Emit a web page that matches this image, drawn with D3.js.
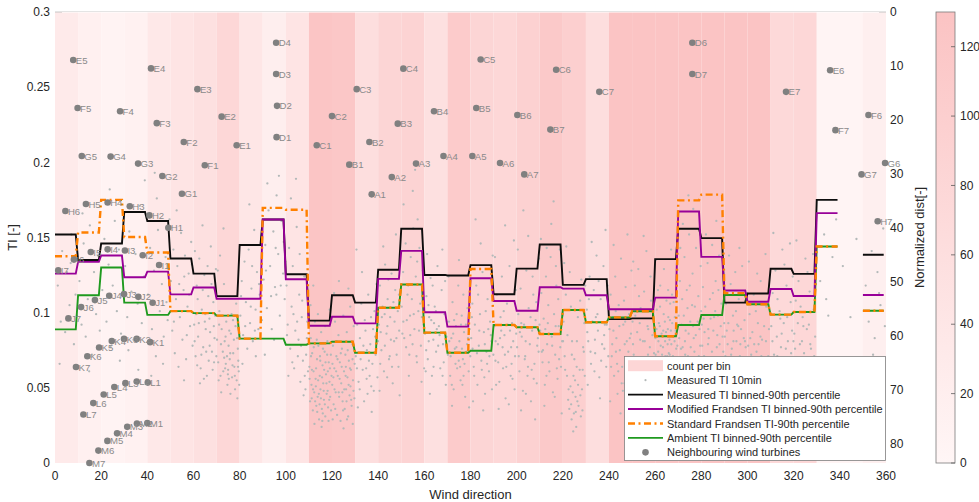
<!DOCTYPE html>
<html>
<head>
<meta charset="utf-8">
<script src="https://cdn.jsdelivr.net/npm/d3@7/dist/d3.min.js"></script>
<style>
  html, body { margin: 0; padding: 0; background: #fff; }
  svg { display: block; font-family: "Liberation Sans", Arial, Helvetica, sans-serif; }
</style>
</head>
<body>
<svg id="chart" width="979" height="502"></svg>
<script>
// ---- data -------------------------------------------------------------
// 10-degree direction bins (bin start angles)
const binStarts = d3.range(0, 360, 10);

// number of 10-min records per bin (background shading)
const countPerBin = [30, 15, 8, 12, 35, 45, 55, 80, 40, 20, 45, 125, 120, 60, 85, 90, 55, 110,
                     85, 80, 95, 115, 100, 60, 128, 128, 128, 128, 128, 128, 128, 75, 80, 5, 5, 18];

// binned 90th-percentile TI per bin (null = no data)
const measuredTI = [0.152, 0.135, 0.146, 0.167, 0.161, 0.136, 0.126, 0.111, 0.145, 0.162, 0.1256, 0.0947,
                    0.1116, 0.1067, 0.1285, 0.1558, 0.1251, 0.1247, 0.1316, 0.1123, 0.1293, 0.1453, 0.1185, 0.1223,
                    0.0957, 0.0962, 0.1356, 0.1558, 0.1496, 0.1067, 0.1127, 0.1292, 0.1258, 0.175, null, 0.1385];
const modifiedFrandsenTI = [0.126, 0.1338, 0.138, 0.1236, 0.1273, 0.1122, 0.1167, 0.1093, 0.1093, 0.162, 0.1222, 0.0913,
                    0.0973, 0.0929, 0.1225, 0.1411, 0.1003, 0.0907, 0.1229, 0.1078, 0.1013, 0.1169, 0.116, 0.1116,
                    0.1023, 0.1023, 0.110, 0.1673, 0.1371, 0.1147, 0.1073, 0.1157, 0.1111, 0.1662, null, 0.1118];
const standardFrandsenTI = [0.1375, 0.1533, 0.175, 0.1503, 0.140, 0.101, 0.0997, 0.098, 0.0827, 0.1697, 0.1685, 0.0796,
                    0.0807, 0.0733, 0.1033, 0.1187, 0.0867, 0.0733, 0.129, 0.0918, 0.0903, 0.0858, 0.1018, 0.0936,
                    0.0969, 0.1009, 0.0843, 0.1747, 0.1785, 0.113, 0.1056, 0.0987, 0.1004, 0.144, null, 0.1013];
const ambientTI = [0.0889, 0.1116, 0.130, 0.1067, 0.0985, 0.101, 0.0997, 0.098, 0.0827, 0.0827, 0.0787, 0.0796,
                    0.0807, 0.0733, 0.1033, 0.1187, 0.0867, 0.0733, 0.0747, 0.0918, 0.0903, 0.0858, 0.1018, 0.0936,
                    0.0969, 0.1009, 0.0843, 0.0918, 0.0984, 0.1118, 0.1056, 0.0987, 0.1004, 0.144, null, 0.1013];

// neighbouring turbines: [name, direction (deg), normalized distance]
const turbines = [
  ["E5",7.9,8.9],["E4",41.6,10.45],["E3",61.7,14.3],["E2",72.2,19.4],["E1",78.7,24.7],
  ["D4",95.8,5.7],["D3",95.8,11.5],["D2",96.2,17.4],["D1",96.0,23.2],
  ["F5",9.8,17.8],["F4",28.2,18.4],["F3",44.1,20.6],["F2",55.8,24.1],["F1",64.9,28.4],
  ["G5",11.6,26.7],["G4",24.1,26.8],["G3",36.0,28.1],["G2",46.5,30.4],["G1",55.0,33.7],
  ["H6",4.5,36.9],["H5",13.4,35.6],["H4",22.8,35.3],["H3",32.4,36.0],["H2",40.9,37.7],["H1",49.1,40.0],
  ["I7",1.4,47.9],["I6",8.2,45.9],["I5",15.5,44.5],["I4",22.8,44.0],["I3",30.3,44.2],["I2",38.0,45.1],["I1",45.1,46.9],
  ["J7",5.8,56.8],["J6",11.3,54.7],["J5",17.3,53.4],["J4",23.5,52.6],["J3",29.9,52.3],["J2",36.1,52.8],["J1",42.3,53.9],
  ["K7",9.1,65.8],["K6",14.0,63.8],["K5",19.1,62.2],["K4",24.6,61.0],["K3",29.9,60.6],["K2",35.4,60.6],["K1",41.2,61.2],
  ["L7",12.3,74.6],["L6",16.6,72.5],["L5",21.1,70.9],["L4",25.7,69.5],["L3",30.5,68.8],["L2",35.4,68.5],["L1",40.2,68.7],
  ["M7",14.9,83.6],["M6",18.8,81.3],["M5",22.7,79.5],["M4",26.9,78.1],["M3",31.3,76.9],["M2",35.5,76.3],["M1",40.0,76.2],
  ["C1",113.4,24.7],["C2",120.0,19.3],["C3",130.7,14.3],["C4",150.9,10.5],["C5",184.4,8.8],["C6",217.1,10.7],["C7",235.8,14.8],
  ["B1",127.5,28.3],["B2",136.2,24.1],["B3",148.5,20.7],["B4",164.2,18.4],["B5",182.5,17.8],["B6",200.3,19.1],["B7",214.6,21.8],
  ["A1",137.2,33.8],["A2",145.9,30.6],["A3",156.4,28.1],["A4",168.3,26.7],["A5",180.8,26.7],["A6",192.8,28.0],["A7",203.3,30.1],
  ["D6",276.1,5.7],["D7",276.1,11.5],["E7",316.7,14.8],["E6",335.8,10.8],["F6",352.4,19.1],["F7",338.1,21.9],
  ["G6",359.6,28.0],["G7",349.4,30.1],["H7",356.4,38.8]
];

// measured 10-min TI records: [direction (deg), TI]
const measured10min = [
[1.2,.118],[2.5,.094],[3.1,.141],[4.4,.087],[5.2,.127],[6.3,.105],[7.1,.152],[8.2,.079],[8.9,.112],[2.0,.066],[6.8,.133],[9.5,.098],[4.0,.168],
[10.6,.121],[11.5,.092],[12.4,.146],[13.3,.084],[14.2,.109],[15.1,.158],[16.0,.072],[16.9,.127],[17.8,.099],[18.6,.138],[19.4,.088],[14.8,.061],[11.9,.166],
[20.5,.115],[21.4,.149],[22.3,.094],[23.2,.132],[24.1,.077],[25.0,.118],[25.9,.161],[26.8,.101],[27.7,.142],[28.6,.086],[29.4,.125],[23.7,.182],[28.1,.068],
[30.4,.131],[31.3,.097],[32.2,.154],[33.1,.114],[34.0,.082],[34.9,.139],[35.8,.106],[36.7,.171],[37.6,.093],[38.5,.124],[39.3,.148],[31.8,.075],[36.1,.062],[38.9,.188],
[40.3,.112],[41.2,.143],[42.0,.089],[42.9,.128],[43.7,.071],[44.6,.155],[45.4,.101],[46.3,.119],[47.1,.084],[47.9,.137],[48.8,.095],[49.6,.162],[41.7,.058],[44.1,.176],[45.9,.132],[48.3,.107],[43.2,.193],[46.8,.066],
[50.2,.121],[50.8,.088],[51.3,.142],[51.9,.073],[52.4,.109],[53.0,.131],[53.5,.064],[54.1,.097],[54.6,.153],[55.2,.082],[55.7,.115],[56.3,.138],[56.8,.069],[57.4,.104],[57.9,.126],[58.5,.091],[59.0,.147],[59.6,.078],[52.7,.168],[55.9,.055],[58.1,.112],[50.6,.101],[53.8,.119],[57.1,.085],[59.3,.132],[54.4,.178],[51.5,.094],[56.0,.124],
[60.3,.092],[60.9,.071],[61.4,.118],[62.0,.084],[62.5,.136],[63.1,.063],[63.6,.102],[64.2,.077],[64.7,.125],[65.3,.089],[65.8,.058],[66.4,.111],[66.9,.096],[67.5,.144],[68.0,.074],[68.6,.107],[69.1,.083],[69.7,.129],[61.1,.099],[62.8,.053],[64.0,.115],[65.5,.074],[67.2,.087],[68.3,.062],[69.4,.098],[63.9,.158],[66.1,.131],[61.8,.109],[67.8,.119],[60.6,.141],[64.9,.094],[68.9,.067],
[70.2,.082],[70.7,.067],[71.2,.101],[71.7,.058],[72.2,.089],[72.7,.074],[73.2,.119],[73.7,.063],[74.2,.094],[74.7,.052],[75.2,.078],[75.7,.069],[76.2,.086],[76.7,.057],[77.2,.073],[77.7,.064],[78.2,.091],[78.7,.055],[79.2,.076],[79.6,.061],[70.5,.128],[72.0,.047],[73.5,.081],[75.0,.062],[76.5,.099],[78.0,.049],[79.4,.068],[71.5,.138],[74.5,.071],[77.5,.082],[76.0,.046],[73.0,.156],[78.5,.106],[75.5,.088],[79.0,.043],[74.0,.066],
[80.3,.098],[80.9,.121],[81.5,.085],[82.1,.134],[82.7,.107],[83.3,.076],[83.9,.142],[84.5,.093],[85.1,.116],[85.7,.081],[86.3,.155],[86.9,.102],[87.5,.127],[88.1,.089],[88.7,.112],[89.3,.149],[81.2,.066],[84.2,.172],[87.0,.071],[85.4,.131],[89.6,.095],
[90.4,.122],[91.1,.145],[91.8,.103],[92.5,.168],[93.2,.131],[93.9,.089],[94.6,.154],[95.3,.117],[96.0,.178],[96.7,.139],[97.4,.098],[98.1,.161],[98.8,.126],[99.5,.109],[92.0,.186],[94.9,.082],[97.0,.191],[99.1,.147],[90.9,.072],[95.9,.112],
[100.3,.118],[100.8,.092],[101.4,.143],[101.9,.076],[102.5,.104],[103.0,.131],[103.6,.063],[104.1,.088],[104.7,.157],[105.2,.071],[105.8,.112],[106.3,.054],[106.9,.097],[107.4,.068],[108.0,.124],[108.5,.049],[109.1,.083],[109.6,.061],[102.2,.176],[104.4,.189],[106.0,.139],[107.7,.045],[108.8,.072],[101.1,.058],[103.3,.099],[105.5,.082],[107.1,.108],[109.3,.094],
[110.2,.064],[110.5,.041],[110.8,.083],[111.1,.052],[111.4,.073],[111.7,.035],[112.0,.061],[112.3,.047],[112.6,.094],[112.9,.056],[113.2,.038],[113.5,.069],[113.8,.044],[114.1,.078],[114.4,.029],[114.7,.058],[115.0,.049],[115.3,.087],[115.6,.036],[115.9,.065],[116.2,.053],[116.5,.042],[116.8,.074],[117.1,.031],[117.4,.059],[117.7,.046],[118.0,.081],[118.3,.037],[118.6,.067],[118.9,.054],[119.2,.044],[119.5,.072],[119.8,.058],[110.7,.105],[112.4,.026],[113.9,.099],[115.5,.024],[117.0,.091],[118.5,.028],[111.9,.118],[114.9,.068],[116.0,.033],[119.0,.102],[113.0,.051],[116.6,.062],[111.2,.043],[118.1,.048],[114.6,.039],
[120.1,.052],[120.4,.078],[120.7,.039],[121.0,.063],[121.3,.094],[121.6,.047],[121.9,.071],[122.2,.032],[122.5,.058],[122.8,.085],[123.1,.044],[123.4,.067],[123.7,.028],[124.0,.053],[124.3,.076],[124.6,.041],[124.9,.098],[125.2,.061],[125.5,.036],[125.8,.072],[126.1,.049],[126.4,.087],[126.7,.057],[127.0,.031],[127.3,.068],[127.6,.045],[127.9,.104],[128.2,.062],[128.5,.038],[128.8,.079],[129.1,.055],[129.4,.091],[129.7,.043],[120.9,.113],[123.0,.121],[125.0,.023],[127.1,.116],[129.0,.026],[122.0,.081],[126.0,.064],[128.0,.051],[124.5,.047],
[130.3,.071],[130.9,.092],[131.5,.054],[132.1,.083],[132.7,.106],[133.3,.062],[133.9,.041],[134.5,.088],[135.1,.075],[135.7,.112],[136.3,.058],[136.9,.097],[137.5,.066],[138.1,.048],[138.7,.084],[139.3,.119],[131.2,.037],[133.0,.127],[134.8,.063],[136.6,.079],[138.4,.101],[139.7,.057],[132.4,.069],[135.4,.046],[137.8,.089],[130.6,.142],[134.2,.095],[137.2,.034],
[140.3,.092],[140.8,.118],[141.4,.075],[141.9,.104],[142.5,.061],[143.0,.132],[143.6,.086],[144.1,.109],[144.7,.069],[145.2,.097],[145.8,.126],[146.3,.053],[146.9,.081],[147.4,.115],[148.0,.072],[148.5,.101],[149.1,.088],[149.6,.139],[140.6,.048],[142.2,.144],[143.9,.057],[145.5,.082],[147.1,.094],[148.8,.064],[141.1,.087],[144.4,.122],[146.6,.107],[149.3,.045],[142.8,.099],[147.7,.152],
[150.2,.104],[150.8,.127],[151.3,.083],[151.9,.146],[152.4,.095],[153.0,.118],[153.5,.072],[154.1,.137],[154.6,.109],[155.2,.156],[155.7,.089],[156.3,.124],[156.8,.067],[157.4,.101],[157.9,.143],[158.5,.078],[159.0,.115],[159.6,.092],[151.0,.172],[153.3,.058],[155.0,.181],[156.9,.134],[158.8,.054],[152.7,.112],[154.9,.079],[157.1,.162],[159.3,.128],[150.5,.086],[153.8,.098],[158.2,.106],[156.0,.195],
[160.3,.086],[160.9,.111],[161.5,.069],[162.1,.097],[162.7,.123],[163.3,.058],[163.9,.082],[164.5,.104],[165.1,.074],[165.7,.131],[166.3,.091],[166.9,.063],[167.5,.115],[168.1,.079],[168.7,.099],[169.3,.052],[161.2,.139],[162.4,.046],[164.2,.093],[166.0,.078],[167.8,.142],[169.6,.084],[160.6,.061],[163.6,.118],[165.4,.089],[168.4,.067],[161.8,.105],[169.0,.121],
[170.2,.072],[170.7,.094],[171.2,.058],[171.7,.083],[172.2,.107],[172.7,.049],[173.2,.076],[173.7,.091],[174.2,.063],[174.7,.118],[175.2,.081],[175.7,.055],[176.2,.098],[176.7,.069],[177.2,.087],[177.7,.044],[178.2,.074],[178.7,.103],[179.2,.061],[179.6,.089],[170.5,.124],[172.0,.038],[173.5,.066],[175.0,.135],[176.5,.052],[178.0,.092],[179.4,.037],[171.4,.071],[174.0,.099],[177.0,.058],[178.5,.079],[172.5,.086],[175.5,.064],[176.9,.112],
[180.3,.083],[180.8,.106],[181.4,.064],[181.9,.092],[182.5,.118],[183.0,.052],[183.6,.078],[184.1,.099],[184.7,.068],[185.2,.127],[185.8,.087],[186.3,.046],[186.9,.074],[187.4,.109],[188.0,.061],[188.5,.094],[189.1,.081],[189.6,.138],[181.1,.041],[182.8,.073],[184.4,.146],[186.0,.057],[187.7,.089],[189.3,.049],[180.6,.097],[183.3,.112],[185.5,.035],[188.2,.071],[182.2,.162],[186.6,.101],
[190.3,.091],[190.8,.068],[191.4,.112],[191.9,.079],[192.5,.054],[193.0,.097],[193.6,.124],[194.1,.063],[194.7,.085],[195.2,.043],[195.8,.106],[196.3,.074],[196.9,.131],[197.4,.058],[198.0,.093],[198.5,.081],[199.1,.049],[199.6,.115],[190.6,.137],[192.2,.036],[193.9,.077],[195.5,.064],[197.1,.088],[198.8,.148],[191.1,.052],[194.4,.101],[196.6,.039],[199.3,.071],[192.8,.083],[197.8,.066],[195.0,.158],
[200.2,.077],[200.7,.099],[201.2,.061],[201.7,.116],[202.2,.084],[202.7,.048],[203.2,.092],[203.7,.071],[204.2,.128],[204.7,.058],[205.2,.103],[205.7,.079],[206.2,.041],[206.7,.088],[207.2,.112],[207.7,.066],[208.2,.095],[208.7,.053],[209.2,.083],[209.7,.136],[200.5,.142],[201.9,.035],[203.5,.069],[205.0,.151],[206.5,.062],[208.0,.029],[209.5,.074],[201.4,.087],[204.0,.046],[206.9,.124],[208.5,.107],[202.9,.168],
[210.2,.088],[210.7,.113],[211.2,.067],[211.7,.096],[212.2,.052],[212.7,.124],[213.2,.079],[213.7,.105],[214.2,.061],[214.7,.137],[215.2,.084],[215.7,.047],[216.2,.099],[216.7,.072],[217.2,.118],[217.7,.056],[218.2,.091],[218.7,.142],[219.2,.064],[219.7,.081],[210.5,.149],[212.0,.038],[213.5,.093],[215.0,.159],[216.5,.044],[218.0,.109],[219.5,.033],[211.4,.075],[214.0,.086],[217.0,.131],[218.4,.069],[212.9,.058],[216.0,.174],[213.0,.143],
[220.3,.094],[220.8,.071],[221.3,.112],[221.8,.058],[222.3,.042],[222.8,.036],[223.3,.051],[223.8,.029],[224.3,.047],[224.8,.033],[225.3,.055],[225.8,.024],[226.3,.041],[226.8,.038],[227.3,.062],[227.8,.031],[228.3,.049],[228.8,.077],[229.3,.093],[229.7,.118],[220.6,.133],[222.0,.085],[223.5,.104],[225.0,.069],[226.5,.097],[228.0,.122],[229.5,.058],[221.5,.144],[224.0,.081],[226.0,.064],[227.5,.108],[223.0,.127],[225.5,.044],[228.5,.035],[224.5,.021],
[230.4,.102],[231.0,.081],[231.6,.124],[232.2,.066],[232.8,.094],[233.4,.115],[234.0,.073],[234.6,.138],[235.2,.088],[235.8,.057],[236.4,.109],[237.0,.079],[237.6,.131],[238.2,.092],[238.8,.064],[239.4,.118],[230.8,.052],[232.5,.147],[234.3,.097],[236.1,.043],[237.9,.085],[239.7,.071],[231.3,.109],[233.7,.061],[235.5,.121],[238.5,.155],
[240.2,.089],[240.7,.112],[241.2,.071],[241.7,.097],[242.2,.058],[242.7,.124],[243.2,.083],[243.7,.046],[244.2,.105],[244.7,.075],[245.2,.136],[245.7,.064],[246.2,.092],[246.7,.053],[247.2,.117],[247.7,.081],[248.2,.039],[248.7,.099],[249.2,.068],[249.7,.128],[240.5,.041],[242.0,.145],[243.5,.066],[245.0,.033],[246.5,.108],[248.0,.152],[249.5,.086],[241.4,.079],[244.0,.061],[247.0,.094],[248.4,.074],[242.9,.101],[246.0,.048],
[250.2,.094],[250.7,.072],[251.2,.118],[251.7,.056],[252.2,.087],[252.7,.129],[253.2,.064],[253.7,.103],[254.2,.045],[254.7,.081],[255.2,.114],[255.7,.069],[256.2,.141],[256.7,.091],[257.2,.052],[257.7,.077],[258.2,.108],[258.7,.061],[259.2,.096],[259.7,.038],[250.5,.134],[252.0,.041],[253.5,.082],[255.0,.151],[256.5,.063],[258.0,.124],[259.5,.073],[251.4,.098],[254.0,.067],[257.0,.089],[258.4,.047],[253.0,.111],[256.0,.031],[250.9,.058],
[260.1,.083],[260.4,.061],[260.7,.102],[261.0,.048],[261.3,.074],[261.6,.093],[261.9,.057],[262.2,.118],[262.5,.069],[262.8,.086],[263.1,.044],[263.4,.077],[263.7,.099],[264.0,.063],[264.3,.081],[264.6,.052],[264.9,.108],[265.2,.071],[265.5,.089],[265.8,.041],[266.1,.066],[266.4,.095],[266.7,.058],[267.0,.079],[267.3,.112],[267.6,.047],[267.9,.084],[268.2,.068],[268.5,.097],[268.8,.055],[269.1,.076],[269.4,.124],[269.7,.063],[260.3,.135],[261.5,.036],[262.6,.052],[263.8,.129],[264.8,.038],[265.9,.073],[266.9,.142],[267.8,.033],[268.9,.088],[262.0,.091],[263.3,.059],[265.0,.064],[266.2,.082],[267.5,.061],[269.0,.046],[264.2,.094],[268.0,.107],[261.2,.115],[265.6,.115],[269.5,.091],[263.0,.072],[266.6,.049],
[270.2,.098],[270.7,.121],[271.2,.076],[271.7,.109],[272.2,.064],[272.7,.137],[273.2,.088],[273.7,.115],[274.2,.071],[274.7,.152],[275.2,.094],[275.7,.058],[276.2,.126],[276.7,.083],[277.2,.104],[277.7,.143],[278.2,.067],[278.7,.111],[279.2,.089],[279.7,.131],[270.5,.051],[272.0,.159],[273.5,.062],[275.0,.118],[276.5,.169],[278.0,.048],[279.5,.078],[271.4,.092],[274.0,.103],[277.0,.074],[278.4,.094],[272.9,.081],[276.0,.105],[274.4,.178],[277.4,.056],[270.9,.143],
[280.2,.092],[280.7,.117],[281.2,.071],[281.7,.104],[282.2,.059],[282.7,.133],[283.2,.083],[283.7,.109],[284.2,.066],[284.7,.145],[285.2,.088],[285.7,.053],[286.2,.121],[286.7,.077],[287.2,.098],[287.7,.138],[288.2,.062],[288.7,.106],[289.2,.084],[289.7,.124],[280.5,.047],[282.0,.152],[283.5,.063],[285.0,.113],[286.5,.161],[288.0,.044],[289.5,.074],[281.4,.087],[284.0,.096],[287.0,.069],[288.4,.091],[282.9,.079],[286.0,.101],[284.4,.038],[287.4,.115],
[290.2,.084],[290.7,.106],[291.2,.065],[291.7,.093],[292.2,.052],[292.7,.119],[293.2,.076],[293.7,.098],[294.2,.058],[294.7,.127],[295.2,.081],[295.7,.046],[296.2,.109],[296.7,.071],[297.2,.089],[297.7,.131],[298.2,.057],[298.7,.095],[299.2,.077],[299.7,.113],[290.5,.039],[292.0,.138],[293.5,.062],[295.0,.101],[296.5,.143],[298.0,.036],[299.5,.068],[291.4,.079],[294.0,.088],[297.0,.061],[298.4,.083],[292.9,.072],[296.0,.091],
[300.3,.078],[300.9,.099],[301.5,.061],[302.1,.087],[302.7,.112],[303.3,.048],[303.9,.074],[304.5,.093],[305.1,.057],[305.7,.121],[306.3,.082],[306.9,.043],[307.5,.068],[308.1,.104],[308.7,.063],[309.3,.089],[300.6,.134],[302.4,.036],[304.2,.126],[306.0,.071],[307.8,.139],[309.6,.052],[301.2,.083],[303.6,.101],[305.4,.066],[307.2,.091],[308.4,.031],[301.8,.058],[304.8,.079],
[310.3,.091],[310.9,.113],[311.5,.072],[312.1,.128],[312.7,.084],[313.3,.056],[313.9,.101],[314.5,.077],[315.1,.142],[315.7,.093],[316.3,.063],[316.9,.118],[317.5,.081],[318.1,.049],[318.7,.107],[319.3,.088],[311.2,.153],[312.4,.041],[314.2,.096],[316.0,.132],[317.8,.069],[319.6,.124],[313.0,.109],[315.4,.061],[318.4,.146],[310.6,.067],
[320.3,.086],[320.9,.108],[321.5,.067],[322.1,.121],[322.7,.079],[323.3,.052],[323.9,.097],[324.5,.073],[325.1,.136],[325.7,.089],[326.3,.061],[326.9,.114],[327.5,.076],[328.1,.045],[328.7,.102],[329.3,.084],[321.2,.148],[322.4,.038],[324.2,.091],[326.0,.127],[327.8,.065],[329.6,.119],[323.0,.104],[325.4,.057],[328.4,.139],
[331.5,.121],[333.2,.152],[335.0,.098],[336.8,.137],[338.4,.162],[334.1,.109],
[341.3,.131],[344.6,.097],[347.2,.149],
[351.2,.118],[352.5,.094],[353.8,.141],[355.1,.083],[356.3,.127],[357.6,.105],[358.8,.156],[359.5,.091],[354.4,.072],[357.0,.113],
[60.5,.081],[61.6,.065],[62.3,.093],[63.4,.072],[64.5,.056],[65.1,.099],[66.6,.068],[67.0,.078],[68.8,.091],[69.9,.071],[70.9,.055],[71.9,.079],[72.9,.061],[73.9,.084],[74.9,.059],[75.9,.073],[76.9,.065],[77.9,.058],[78.9,.083],[79.8,.052],[71.1,.092],[73.3,.070],[75.3,.056],[77.1,.095],[79.3,.064],
[80.6,.111],[82.4,.091],[84.8,.104],[86.6,.088],[88.4,.119],[91.4,.128],[93.6,.111],[95.6,.143],[97.8,.118],[99.8,.134],[100.5,.085],[102.8,.067],[104.9,.094],[106.6,.078],[108.2,.058],[109.8,.102],
[110.3,.056],[110.9,.071],[111.3,.062],[111.8,.049],[112.1,.077],[112.7,.041],[113.1,.063],[113.6,.034],[114.0,.055],[114.3,.046],[114.8,.071],[115.2,.043],[115.7,.057],[116.1,.076],[116.4,.048],[116.9,.039],[117.2,.067],[117.6,.053],[118.2,.061],[118.8,.042],[119.1,.063],[119.6,.035],[120.2,.066],[120.6,.057],[121.1,.049],[121.4,.036],[121.8,.061],[122.4,.069],[122.9,.047],[123.3,.056],[123.8,.073],[124.2,.064],[124.8,.035],[125.3,.049],[125.9,.058],[126.3,.041],[126.8,.075],[127.2,.052],[127.8,.063],[128.3,.042],[128.9,.069],[129.3,.048],[129.8,.066],[117.9,.072],[113.4,.082],[115.8,.028],[120.3,.029],[126.5,.029],
[130.8,.063],[132.0,.049],[133.6,.078],[135.0,.056],[136.0,.068],[137.0,.051],[138.9,.072],[139.9,.081],
[140.9,.066],[141.6,.097],[142.9,.078],[144.0,.091],[145.0,.071],[146.0,.064],[147.9,.083],[149.0,.112],
[150.9,.094],[152.1,.077],[153.9,.085],[155.4,.099],[156.6,.071],[157.7,.088],[158.9,.097],[159.9,.063],
[160.8,.075],[161.9,.081],[163.0,.095],[164.0,.064],[165.0,.101],[166.6,.085],[167.9,.058],[169.8,.094],
[170.8,.081],[171.9,.052],[172.9,.095],[173.9,.077],[174.9,.068],[175.9,.092],[176.3,.076],[177.4,.066],[178.9,.083],[179.9,.071],
[180.9,.076],[181.6,.058],[183.8,.088],[184.9,.062],[186.2,.079],[187.2,.066],[188.8,.085],[189.9,.072],
[190.9,.081],[192.0,.067],[193.3,.088],[194.9,.072],[196.1,.092],[197.6,.077],[198.2,.056],[199.8,.086],
[200.9,.071],[202.0,.093],[203.9,.081],[204.9,.064],[206.0,.097],[207.4,.056],[208.9,.078],[209.9,.092],
[210.9,.074],[212.4,.089],[213.9,.067],[215.4,.078],[216.9,.091],[217.4,.063],[218.9,.077],[219.9,.098],
[220.1,.081],[221.0,.062],[222.5,.049],[223.6,.039],[224.6,.058],[225.6,.034],[226.6,.052],[227.6,.045],[228.6,.062],[229.1,.074],[223.9,.072],[226.1,.081],
[230.6,.087],[232.0,.074],[233.9,.082],[235.0,.099],[236.6,.068],[238.0,.076],[239.0,.092],
[240.9,.064],[241.9,.088],[243.0,.074],[244.5,.091],[245.5,.053],[246.8,.079],[247.9,.061],[249.0,.083],
[250.4,.079],[251.9,.066],[253.3,.093],[254.5,.059],[255.5,.081],[256.9,.072],[258.8,.085],[259.9,.061],
[260.2,.072],[260.6,.089],[260.9,.059],[261.4,.081],[261.8,.069],[262.4,.078],[262.9,.062],[263.5,.088],[263.9,.054],[264.4,.071],[264.7,.087],[265.1,.058],[265.4,.079],[265.7,.097],[266.0,.054],[266.3,.072],[266.8,.088],[267.1,.064],[267.4,.093],[267.7,.071],[268.1,.056],[268.4,.081],[268.7,.064],[269.2,.101],[269.6,.078],[269.9,.059],[262.1,.104],[264.1,.043],[266.5,.106],[268.6,.041],
[270.4,.083],[271.0,.067],[271.9,.077],[272.4,.098],[273.0,.072],[274.5,.086],[275.4,.077],[276.4,.091],[277.6,.085],[278.9,.071],[279.9,.101],
[280.4,.078],[281.0,.096],[281.9,.063],[283.0,.089],[284.6,.074],[285.5,.097],[286.9,.085],[287.9,.079],[288.9,.066],[289.9,.093],
[290.4,.071],[291.0,.088],[292.4,.065],[293.9,.081],[294.5,.069],[295.5,.092],[296.9,.079],[297.5,.052],[298.9,.081],[299.9,.062],
[300.5,.066],[301.6,.072],[302.9,.079],[303.9,.061],[305.6,.084],[306.6,.059],[308.0,.081],[309.0,.071],
[310.8,.081],[312.9,.071],[314.8,.086],[316.6,.076],[317.2,.097],[318.9,.073],[319.9,.081],
[320.6,.076],[321.8,.093],[323.6,.081],[324.8,.068],[326.6,.092],[327.2,.079],[328.9,.071]
];

// axis ticks
const dirTicks = d3.range(0, 361, 20);
const tiTicks = [0, 0.05, 0.1, 0.15, 0.2, 0.25, 0.3];
const distTicks = d3.range(0, 81, 10);
const countTicks = [0, 20, 40, 60, 80, 100, 120];

// ---- layout -----------------------------------------------------------
const svg = d3.select("#chart");
const plot = { left: 55, right: 886, top: 12, bottom: 463 };

const x = d3.scaleLinear().domain([0, 360]).range([plot.left, plot.right]);
const y = d3.scaleLinear().domain([0, 0.3]).range([plot.bottom, plot.top]);
const yDist = d3.scaleLinear().domain([0, 83.6]).range([plot.top, plot.bottom]);
const countColor = d3.scaleLinear().domain([0, 130]).range(["#fff6f6", "#fbc3c3"]).clamp(true);

const textColor = "#262626";

// axis ticks (drawn first so the bins sit over them)
const gAxes = svg.append("g");
gAxes.append("line").attr("x1", plot.left).attr("x2", plot.left + 7)
  .attr("y1", y(0.3)).attr("y2", y(0.3)).attr("stroke", "#8c8c8c");
gAxes.append("line").attr("x1", plot.right - 7).attr("x2", plot.right)
  .attr("y1", yDist(0)).attr("y2", yDist(0)).attr("stroke", "#8c8c8c");
gAxes.append("line").attr("x1", plot.left).attr("x2", plot.right)
  .attr("y1", plot.top - 0.5).attr("y2", plot.top - 0.5).attr("stroke", "#e4e4e4");

// count-per-bin shading
svg.append("g").selectAll("rect").data(binStarts).join("rect")
  .attr("x", d => x(d))
  .attr("y", plot.top + 0.5)
  .attr("width", d => x(d + 10) - x(d))
  .attr("height", plot.bottom - plot.top - 0.5)
  .attr("fill", (d, i) => countColor(countPerBin[i]));

// 10-min records
svg.append("g").selectAll("circle").data(measured10min).join("circle")
  .attr("cx", d => x(d[0]))
  .attr("cy", d => y(d[1]))
  .attr("r", 1.15)
  .attr("fill", "#b3b9b9");

// binned percentile lines: each bin holds its value over 0..9 degrees of the bin
function stepPoints(values) {
  const pts = [];
  for (let deg = 0; deg < 360; deg++) {
    pts.push([deg, values[Math.floor(deg / 10)]]);
  }
  return pts;
}
const line = d3.line()
  .defined(d => d[1] !== null)
  .x(d => x(d[0]))
  .y(d => y(d[1]));

const series = [
  { values: measuredTI, color: "#0d0d0d", width: 1.9, dash: null },
  { values: ambientTI, color: "#1f9a1f", width: 1.9, dash: null },
  { values: modifiedFrandsenTI, color: "#980098", width: 1.9, dash: null },
  { values: standardFrandsenTI, color: "#ff8000", width: 2.4, dash: "7,3.5,2,3.5" }
];
svg.append("g").selectAll("path").data(series).join("path")
  .attr("d", s => line(stepPoints(s.values)))
  .attr("fill", "none")
  .attr("stroke", s => s.color)
  .attr("stroke-width", s => s.width)
  .attr("stroke-dasharray", s => s.dash)
  .attr("stroke-linejoin", "miter");

// neighbouring turbines
const gT = svg.append("g");
gT.selectAll("circle").data(turbines).join("circle")
  .attr("cx", d => x(d[1]))
  .attr("cy", d => yDist(d[2]))
  .attr("r", 3.3)
  .attr("fill", "#808080");
gT.selectAll("text").data(turbines).join("text")
  .attr("x", d => x(d[1]) + 2.5)
  .attr("y", d => yDist(d[2]) + 3.6)
  .attr("font-size", 9.6)
  .attr("fill", "#8a8a8a")
  .text(d => d[0]);

// left axis labels
svg.append("g").selectAll("text").data(tiTicks).join("text")
  .attr("x", 50).attr("y", d => y(d) + 4.2)
  .attr("text-anchor", "end").attr("font-size", 12).attr("fill", textColor)
  .text(d => d3.format("~g")(d));

// bottom axis labels
svg.append("g").selectAll("text").data(dirTicks).join("text")
  .attr("x", d => x(d)).attr("y", 480)
  .attr("text-anchor", "middle").attr("font-size", 12).attr("fill", textColor)
  .text(d => d);

// right axis labels
svg.append("g").selectAll("text").data(distTicks).join("text")
  .attr("x", 890).attr("y", d => yDist(d) + 4.2)
  .attr("font-size", 12).attr("fill", textColor)
  .text(d => d);

// axis titles
svg.append("text").attr("x", x(180)).attr("y", 498.5)
  .attr("text-anchor", "middle").attr("font-size", 13).attr("fill", textColor)
  .text("Wind direction");
svg.append("text").attr("transform", `translate(17,${(plot.top + plot.bottom) / 2}) rotate(-90)`)
  .attr("text-anchor", "middle").attr("font-size", 13).attr("fill", textColor)
  .text("TI [-]");
svg.append("text").attr("transform", `translate(924,${(plot.top + plot.bottom) / 2}) rotate(-90)`)
  .attr("text-anchor", "middle").attr("font-size", 13).attr("fill", textColor)
  .text("Normalized dist[-]");

// colorbar
const cb = { left: 936, right: 955, top: 12, bottom: 463 };
const cbScale = d3.scaleLinear().domain([0, 130]).range([cb.bottom, cb.top]);
const grad = svg.append("defs").append("linearGradient")
  .attr("id", "cbGrad").attr("x1", 0).attr("y1", 1).attr("x2", 0).attr("y2", 0);
grad.selectAll("stop").data([0, 130]).join("stop")
  .attr("offset", d => d / 130)
  .attr("stop-color", d => countColor(d));
svg.append("rect")
  .attr("x", cb.left).attr("y", cb.top)
  .attr("width", cb.right - cb.left).attr("height", cb.bottom - cb.top)
  .attr("fill", "url(#cbGrad)")
  .attr("stroke", "#7a7a7a").attr("stroke-width", 0.8);
const gCb = svg.append("g");
gCb.selectAll("line").data(countTicks).join("line")
  .attr("x1", cb.right - 4).attr("x2", cb.right)
  .attr("y1", d => cbScale(d)).attr("y2", d => cbScale(d))
  .attr("stroke", "#5a5a5a").attr("stroke-width", 0.8);
gCb.selectAll("text").data(countTicks).join("text")
  .attr("x", 960).attr("y", d => cbScale(d) + 4.2)
  .attr("font-size", 12).attr("fill", textColor)
  .text(d => d);

// legend
const lg = svg.append("g");
lg.append("rect").attr("x", 624.5).attr("y", 356.5).attr("width", 261).attr("height", 104)
  .attr("fill", "#fff").attr("stroke", "#7f7f7f").attr("stroke-width", 0.8);
const legendItems = [
  { label: "count per bin", kind: "patch" },
  { label: "Measured TI 10min", kind: "dot" },
  { label: "Measured TI binned-90th percentile", kind: "line", s: series[0] },
  { label: "Modified Frandsen TI binned-90th percentile", kind: "line", s: series[2] },
  { label: "Standard Frandsen TI-90th percentile", kind: "line", s: series[3] },
  { label: "Ambient TI binned-90th percentile", kind: "line", s: series[1] },
  { label: "Neighbouring wind turbines", kind: "turbine" }
];
legendItems.forEach((it, i) => {
  const cy = 365.7 + i * 14.44;
  if (it.kind === "patch") {
    lg.append("rect").attr("x", 628).attr("y", cy - 5.5).attr("width", 35).attr("height", 11)
      .attr("fill", "#fdd6d6");
  } else if (it.kind === "dot") {
    lg.append("circle").attr("cx", 645.5).attr("cy", cy).attr("r", 1.05).attr("fill", "#b3b9b9");
  } else if (it.kind === "line") {
    lg.append("line").attr("x1", 628).attr("x2", 663).attr("y1", cy).attr("y2", cy)
      .attr("stroke", it.s.color).attr("stroke-width", it.s.width)
      .attr("stroke-dasharray", it.s.dash);
  } else {
    lg.append("circle").attr("cx", 645.5).attr("cy", cy).attr("r", 3.3).attr("fill", "#808080");
  }
  lg.append("text").attr("x", 667).attr("y", cy + 4.1)
    .attr("font-size", 11).attr("fill", textColor).text(it.label);
});
</script>
</body>
</html>
